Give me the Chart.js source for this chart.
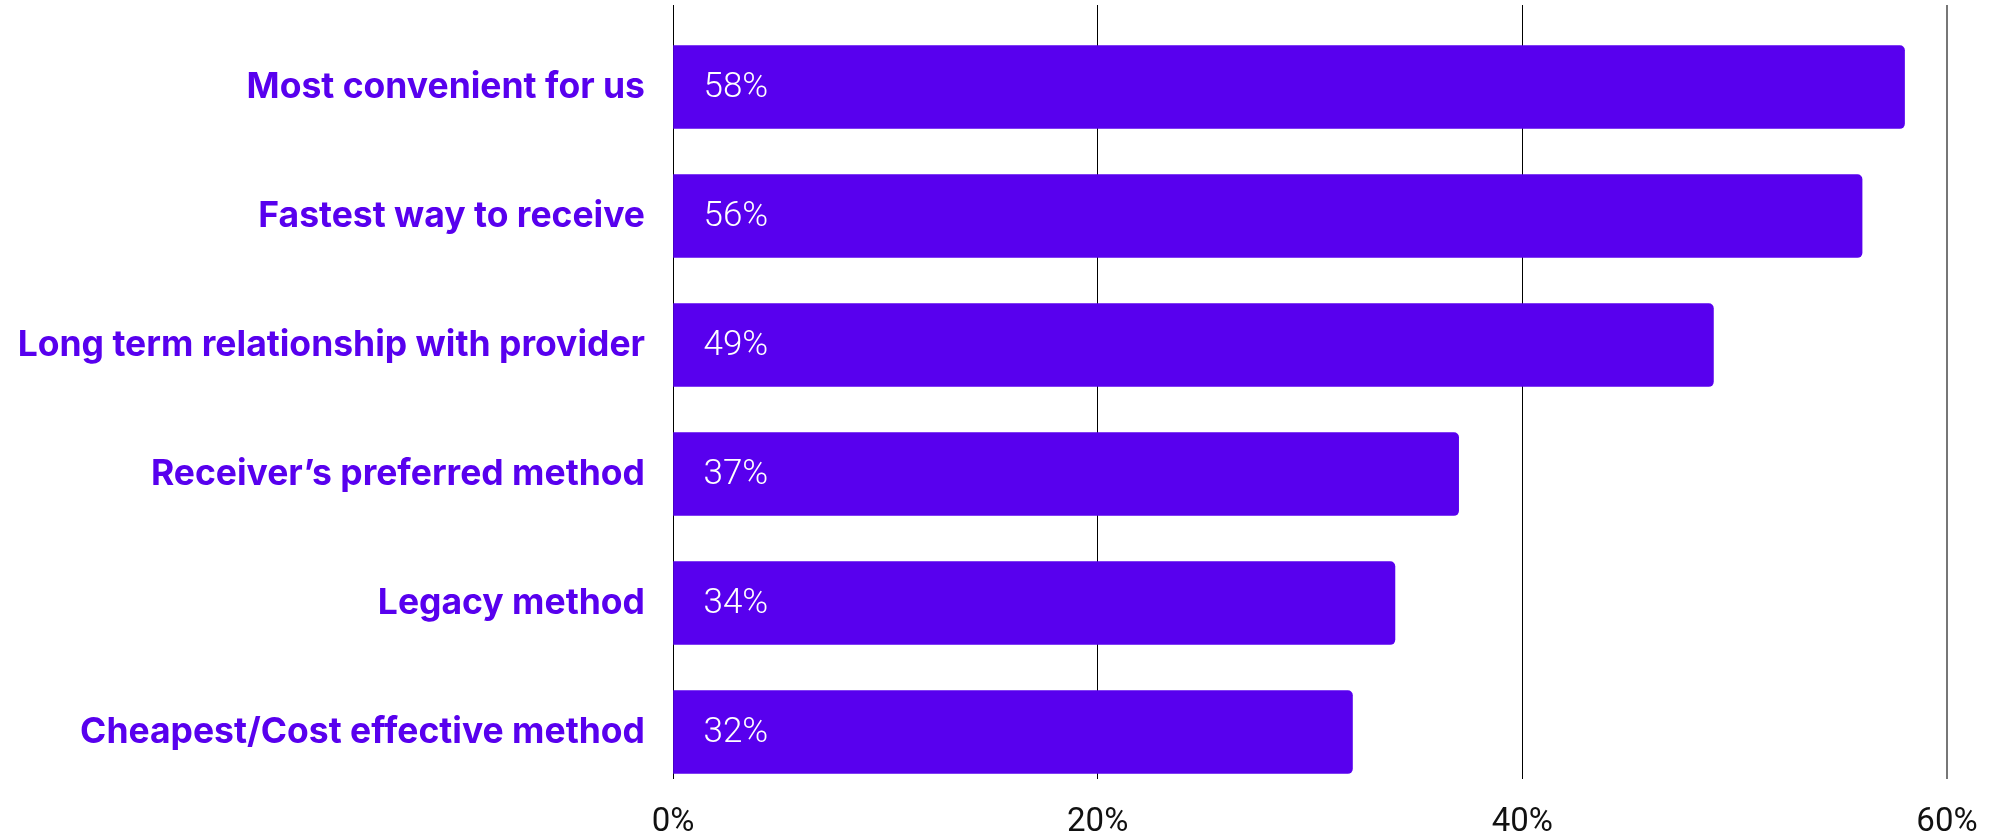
<!DOCTYPE html>
<html>
<head>
<meta charset="utf-8">
<script src="https://cdn.jsdelivr.net/npm/chart.js@4.4.1/dist/chart.umd.min.js"></script>
<style>
  html, body { margin: 0; padding: 0; background: #ffffff; }
  #wrap { position: relative; width: 2010px; height: 838px; }
</style>
</head>
<body>
<div id="wrap"><canvas id="chart"></canvas></div>
<script>
// Reasons for choosing a payment method (share of respondents, %)
const categories = [
  'Most convenient for us',
  'Fastest way to receive',
  'Long term relationship with provider',
  'Receiver\u2019s preferred method',
  'Legacy method',
  'Cheapest/Cost effective method'
];
const shares = [58, 56, 49, 37, 34, 32];
const axisTicks = [0, 20, 40, 60];

const PURPLE = '#5800EE';

// Writes each bar's percentage just inside its base
const barValueLabels = {
  id: 'barValueLabels',
  afterDatasetsDraw(chart) {
    const ctx = chart.ctx;
    const meta = chart.getDatasetMeta(0);
    ctx.save();
    ctx.font = '300 35px Roboto';
    ctx.fillStyle = '#ffffff';
    ctx.textAlign = 'left';
    ctx.textBaseline = 'middle';
    meta.data.forEach((bar, i) => {
      ctx.fillText(shares[i] + '%', bar.base + 30, bar.y + 1);
    });
    ctx.restore();
  }
};

new Chart(document.getElementById('chart'), {
  type: 'bar',
  data: {
    datasets: [{
      data: shares.map((v, i) => ({ x: v, y: i })),
      backgroundColor: PURPLE,
      borderWidth: 0,
      borderRadius: 5,
      borderSkipped: 'start',
      barThickness: 83
    }]
  },
  options: {
    indexAxis: 'y',
    responsive: true,
    maintainAspectRatio: false,
    animation: false,
    layout: { padding: { top: 5, right: 63, bottom: 0, left: 0 } },
    plugins: { legend: { display: false }, tooltip: { enabled: false } },
    scales: {
      x: {
        type: 'linear',
        min: 0,
        max: 60,
        afterBuildTicks: (scale) => { scale.ticks = axisTicks.map(v => ({ value: v })); },
        border: { display: false },
        grid: {
          drawTicks: false,
          color: (c) => (c.tick && c.tick.value === 60 ? '#777777' : '#000000'),
          lineWidth: (c) => (c.tick && c.tick.value === 60 ? 2 : 1)
        },
        ticks: {
          padding: 24,
          color: '#111111',
          font: { family: 'Roboto', size: 33, weight: '400' },
          callback: (v) => v + '%'
        },
        afterFit: (scale) => { scale.height = 59; }
      },
      y: {
        type: 'linear',
        reverse: true,
        offset: false,
        min: -0.636,
        max: 5.364,
        afterBuildTicks: (scale) => { scale.ticks = categories.map((_, i) => ({ value: i })); },
        border: { display: false },
        grid: { display: false, drawTicks: false },
        ticks: {
          padding: 28,
          color: PURPLE,
          font: { family: 'Inter', size: 35.5, weight: '700' },
          callback: (v) => categories[v]
        },
        afterFit: (scale) => {
          scale.width = 673;
          scale.paddingTop = 0;
          scale.paddingBottom = 0;
        }
      }
    }
  },
  plugins: [barValueLabels]
});
</script>
</body>
</html>
